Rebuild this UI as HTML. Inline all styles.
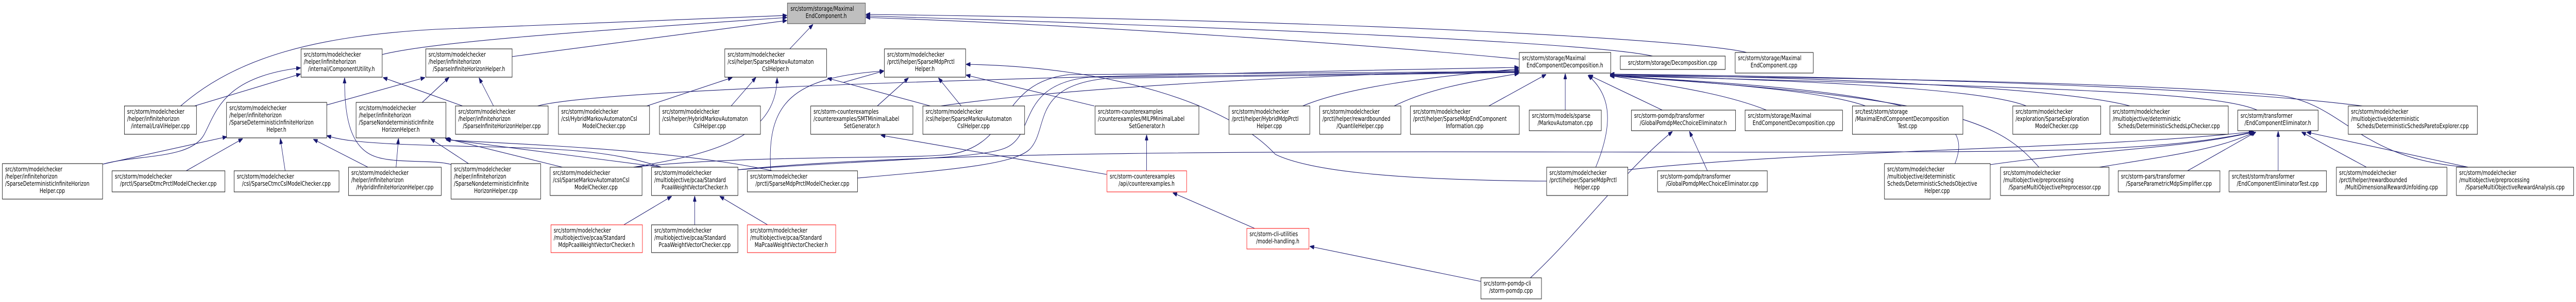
<!DOCTYPE html>
<html><head><meta charset="utf-8"><style>
html,body{margin:0;padding:0;background:#fff;overflow:hidden;width:100%;height:100%;}
svg{display:block;position:absolute;left:0;top:0;width:100vw;height:100vh}
text{font-family:"DejaVu Sans","Liberation Sans",sans-serif;font-size:12px;fill:#000}
.e{fill:none;stroke:#191970;stroke-width:1.1}
.n{fill:#fff;stroke:#000;stroke-width:1}
.r{fill:#fff;stroke:#ff0000;stroke-width:1}
.m{text-anchor:middle}
</style></head><body>
<svg viewBox="0 0 6504 587" preserveAspectRatio="none" xmlns="http://www.w3.org/2000/svg">
<defs><marker id="a" markerUnits="userSpaceOnUse" markerWidth="11" markerHeight="8" refX="10" refY="4" orient="auto"><path d="M0,0 L11,4 L0,8 z" fill="#191970" stroke="#191970"/></marker></defs>
<g class="edges">
<path class="e" marker-end="url(#a)" d="M456,206 C600,110 800,70 1100,57 L1986,30"/>
<path class="e" marker-end="url(#a)" d="M491,206 L758,144"/>
<path class="e" marker-end="url(#a)" d="M260,319 C350,300 480,310 515,262 C545,220 560,150 758,132"/>
<path class="e" marker-end="url(#a)" d="M260,319 L572,266"/>
<path class="e" marker-end="url(#a)" d="M965,106 C1100,80 1500,60 1986,34"/>
<path class="e" marker-end="url(#a)" d="M1293,110 L1986,40"/>
<path class="e" marker-end="url(#a)" d="M1140,320 C1100,310 1000,318 950,305 C880,288 870,220 870,152"/>
<path class="e" marker-end="url(#a)" d="M825,204 L1072,151"/>
<path class="e" marker-end="url(#a)" d="M1066,199 L1133,151"/>
<path class="e" marker-end="url(#a)" d="M1168,206 L968,151"/>
<path class="e" marker-end="url(#a)" d="M1246,206 L1210,152"/>
<path class="e" marker-end="url(#a)" d="M1357,206 C1500,175 2500,150 3834,131"/>
<path class="e" marker-end="url(#a)" d="M470,332 L612,270"/>
<path class="e" marker-end="url(#a)" d="M720,332 L708,270"/>
<path class="e" marker-end="url(#a)" d="M929,325 L792,271"/>
<path class="e" marker-end="url(#a)" d="M1000,325 L1006,270"/>
<path class="e" marker-end="url(#a)" d="M1183,318 L1088,270"/>
<path class="e" marker-end="url(#a)" d="M1420,325 L1125,269"/>
<path class="e" marker-end="url(#a)" d="M1670,325 C1500,280 1300,290 1000,280 C900,276 860,272 826,264"/>
<path class="e" marker-end="url(#a)" d="M1670,325 L1128,271"/>
<path class="e" marker-end="url(#a)" d="M1950,332 C1700,290 1300,280 1127,272"/>
<path class="e" marker-end="url(#a)" d="M1994,95 L2052,48"/>
<path class="e" marker-end="url(#a)" d="M1633,206 L1848,151"/>
<path class="e" marker-end="url(#a)" d="M1846,206 L1908,151"/>
<path class="e" marker-end="url(#a)" d="M1599,325 C1790,300 1960,270 1962,152"/>
<path class="e" marker-end="url(#a)" d="M2349,206 L2090,152"/>
<path class="e" marker-end="url(#a)" d="M2215,206 L2293,152"/>
<path class="e" marker-end="url(#a)" d="M2427,206 L2370,152"/>
<path class="e" marker-end="url(#a)" d="M2763,206 L2440,146"/>
<path class="e" marker-end="url(#a)" d="M2130,160 L2231,138"/>
<path class="e" marker-end="url(#a)" d="M1946,332 C1935,200 2000,150 2231,138"/>
<path class="e" marker-end="url(#a)" d="M3905,352 C3500,350 3300,330 3220,300 C3100,200 2800,130 2440,125"/>
<path class="e" marker-end="url(#a)" d="M2794,339 L2225,263"/>
<path class="e" marker-end="url(#a)" d="M2895,332 L2895,263"/>
<path class="e" marker-end="url(#a)" d="M3168,444 L2962,375"/>
<path class="e" marker-end="url(#a)" d="M3739,547 L3308,479"/>
<path class="e" marker-end="url(#a)" d="M3864,540 C3990,450 4090,340 4222,256"/>
<path class="e" marker-end="url(#a)" d="M4311,332 L4266,256"/>
<path class="e" marker-end="url(#a)" d="M4197,214 L4012,146"/>
<path class="e" marker-end="url(#a)" d="M3952,214 L3952,144"/>
<path class="e" marker-end="url(#a)" d="M3759,206 L3903,145"/>
<path class="e" marker-end="url(#a)" d="M3520,206 C3600,175 3700,160 3834,143"/>
<path class="e" marker-end="url(#a)" d="M3289,206 C3400,170 3600,150 3834,134"/>
<path class="e" marker-end="url(#a)" d="M4029,325 C4080,230 4060,180 4010,147"/>
<path class="e" marker-end="url(#a)" d="M4110,330 C4600,290 5300,290 5688,256"/>
<path class="e" marker-end="url(#a)" d="M4460,214 C4350,180 4200,165 4066,147"/>
<path class="e" marker-end="url(#a)" d="M4710,206 C4600,175 4300,160 4066,146"/>
<path class="e" marker-end="url(#a)" d="M5116,206 C5000,170 4500,155 4066,146"/>
<path class="e" marker-end="url(#a)" d="M5378,206 C5200,170 4600,150 4066,145"/>
<path class="e" marker-end="url(#a)" d="M5965,206 C5600,170 4800,150 4066,144"/>
<path class="e" marker-end="url(#a)" d="M4936,318 C4980,230 4900,180 4066,148"/>
<path class="e" marker-end="url(#a)" d="M5148,325 C5050,240 4950,190 4066,148"/>
<path class="e" marker-end="url(#a)" d="M6232,325 C5950,310 5920,200 5750,185 C5400,160 4600,150 4066,147"/>
<path class="e" marker-end="url(#a)" d="M5523,332 L5695,257"/>
<path class="e" marker-end="url(#a)" d="M5752,332 L5752,256"/>
<path class="e" marker-end="url(#a)" d="M5975,325 L5812,257"/>
<path class="e" marker-end="url(#a)" d="M6232,325 L5825,257"/>
<path class="e" marker-end="url(#a)" d="M5025,320 C5300,290 5500,290 5690,257"/>
<path class="e" marker-end="url(#a)" d="M5300,325 C5500,300 5600,290 5692,257"/>
<path class="e" marker-end="url(#a)" d="M1863,330 C2500,280 4000,300 4800,295 C5200,295 5500,290 5690,256"/>
<path class="e" marker-end="url(#a)" d="M5699,214 C5600,180 5200,170 4066,147"/>
<path class="e" marker-end="url(#a)" d="M3836,115 C3500,90 2800,50 2187,34"/>
<path class="e" marker-end="url(#a)" d="M4173,109 C4000,80 3000,50 2187,31"/>
<path class="e" marker-end="url(#a)" d="M4410,102 C4300,80 3500,40 2187,28"/>
<path class="e" marker-end="url(#a)" d="M1599,325 C1900,300 2300,310 2400,300 C2560,280 2520,160 2700,145 C3200,140 3600,140 3834,139"/>
<path class="e" marker-end="url(#a)" d="M1863,330 C2200,310 2450,310 2530,290 C2620,270 2560,165 2750,150 C3200,145 3600,140 3834,140"/>
<path class="e" marker-end="url(#a)" d="M2165,346 C2400,330 2560,320 2600,290 C2650,250 2600,165 2800,152 C3200,148 3600,142 3834,141"/>
<path class="e" marker-end="url(#a)" d="M2375,206 C2700,170 3300,145 3834,137"/>
<path class="e" marker-end="url(#a)" d="M1575,437 L1695,382"/>
<path class="e" marker-end="url(#a)" d="M1754,437 L1754,382"/>
<path class="e" marker-end="url(#a)" d="M1938,437 L1818,382"/>
</g>
<g class="nodes">
<rect x="1988" y="6" width="197" height="40" fill="#bfbfbf" stroke="#404040"/>
<text x="1996" y="21">src/storm/storage/Maximal</text><text class="m" x="2086" y="35">EndComponent.h</text>

<rect class="n" x="760" y="95" width="205" height="55"/>
<text x="767" y="110">src/storm/modelchecker</text><text x="767" y="124">/helper/infinitehorizon</text><text class="m" x="862" y="138">/internal/ComponentUtility.h</text>

<rect class="n" x="1075" y="95" width="218" height="55"/>
<text x="1082" y="110">src/storm/modelchecker</text><text x="1082" y="124">/helper/infinitehorizon</text><text class="m" x="1184" y="138">/SparseInfiniteHorizonHelper.h</text>

<rect class="n" x="1830" y="95" width="257" height="55"/>
<text x="1837" y="110">src/storm/modelchecker</text><text x="1837" y="124">/csl/helper/SparseMarkovAutomaton</text><text class="m" x="1958" y="138">CslHelper.h</text>

<rect class="n" x="2233" y="95" width="205" height="55"/>
<text x="2240" y="110">src/storm/modelchecker</text><text x="2240" y="124">/prctl/helper/SparseMdpPrctl</text><text class="m" x="2335" y="138">Helper.h</text>

<rect class="n" x="3836" y="102" width="231" height="40"/>
<text x="3843" y="117">src/storm/storage/Maximal</text><text class="m" x="3951" y="131">EndComponentDecomposition.h</text>

<rect class="n" x="4091" y="109" width="265" height="26"/>
<text class="m" x="4223" y="126">src/storm/storage/Decomposition.cpp</text>

<rect class="n" x="4381" y="102" width="197" height="40"/>
<text x="4388" y="117">src/storm/storage/Maximal</text><text class="m" x="4479" y="131">EndComponent.cpp</text>

<rect class="n" x="314" y="206" width="182" height="55"/>
<text x="321" y="221">src/storm/modelchecker</text><text x="321" y="235">/helper/infinitehorizon</text><text class="m" x="405" y="249">/internal/LraViHelper.cpp</text>

<rect class="n" x="572" y="199" width="253" height="69"/>
<text x="579" y="214">src/storm/modelchecker</text><text x="579" y="228">/helper/infinitehorizon</text><text x="579" y="242">/SparseDeterministicInfiniteHorizon</text><text class="m" x="698" y="256">Helper.h</text>

<rect class="n" x="899" y="199" width="227" height="69"/>
<text x="906" y="214">src/storm/modelchecker</text><text x="906" y="228">/helper/infinitehorizon</text><text x="906" y="242">/SparseNondeterministicInfinite</text><text class="m" x="1012" y="256">HorizonHelper.h</text>

<rect class="n" x="1150" y="206" width="234" height="55"/>
<text x="1157" y="221">src/storm/modelchecker</text><text x="1157" y="235">/helper/infinitehorizon</text><text class="m" x="1267" y="249">/SparseInfiniteHorizonHelper.cpp</text>

<rect class="n" x="1410" y="206" width="230" height="55"/>
<text x="1417" y="221">src/storm/modelchecker</text><text x="1417" y="235">/csl/HybridMarkovAutomatonCsl</text><text class="m" x="1525" y="249">ModelChecker.cpp</text>

<rect class="n" x="1665" y="206" width="255" height="55"/>
<text x="1672" y="221">src/storm/modelchecker</text><text x="1672" y="235">/csl/helper/HybridMarkovAutomaton</text><text class="m" x="1792" y="249">CslHelper.cpp</text>

<rect class="n" x="2047" y="206" width="258" height="55"/>
<text x="2054" y="221">src/storm-counterexamples</text><text x="2054" y="235">/counterexamples/SMTMinimalLabel</text><text class="m" x="2176" y="249">SetGenerator.h</text>

<rect class="n" x="2330" y="206" width="257" height="55"/>
<text x="2337" y="221">src/storm/modelchecker</text><text x="2337" y="235">/csl/helper/SparseMarkovAutomaton</text><text class="m" x="2458" y="249">CslHelper.cpp</text>

<rect class="n" x="2765" y="206" width="262" height="55"/>
<text x="2772" y="221">src/storm-counterexamples</text><text x="2772" y="235">/counterexamples/MILPMinimalLabel</text><text class="m" x="2896" y="249">SetGenerator.h</text>

<rect class="n" x="3103" y="206" width="204" height="55"/>
<text x="3110" y="221">src/storm/modelchecker</text><text x="3110" y="235">/prctl/helper/HybridMdpPrctl</text><text class="m" x="3205" y="249">Helper.cpp</text>

<rect class="n" x="3332" y="206" width="205" height="55"/>
<text x="3339" y="221">src/storm/modelchecker</text><text x="3339" y="235">/prctl/helper/rewardbounded</text><text class="m" x="3434" y="249">/QuantileHelper.cpp</text>

<rect class="n" x="3561" y="206" width="275" height="55"/>
<text x="3568" y="221">src/storm/modelchecker</text><text x="3568" y="235">/prctl/helper/SparseMdpEndComponent</text><text class="m" x="3698" y="249">Information.cpp</text>

<rect class="n" x="3861" y="214" width="182" height="40"/>
<text x="3868" y="229">src/storm/models/sparse</text><text class="m" x="3952" y="243">/MarkovAutomaton.cpp</text>

<rect class="n" x="4119" y="214" width="263" height="40"/>
<text x="4126" y="229">src/storm-pomdp/transformer</text><text class="m" x="4250" y="243">/GlobalPomdpMecChoiceEliminator.h</text>

<rect class="n" x="4406" y="214" width="246" height="40"/>
<text x="4413" y="229">src/storm/storage/Maximal</text><text class="m" x="4529" y="243">EndComponentDecomposition.cpp</text>

<rect class="n" x="4677" y="206" width="279" height="55"/>
<text x="4684" y="221">src/test/storm/storage</text><text x="4684" y="235">/MaximalEndComponentDecomposition</text><text class="m" x="4816" y="249">Test.cpp</text>

<rect class="n" x="5082" y="206" width="222" height="55"/>
<text x="5089" y="221">src/storm/modelchecker</text><text x="5089" y="235">/exploration/SparseExploration</text><text class="m" x="5193" y="249">ModelChecker.cpp</text>

<rect class="n" x="5327" y="206" width="299" height="55"/>
<text x="5334" y="221">src/storm/modelchecker</text><text x="5334" y="235">/multiobjective/deterministic</text><text class="m" x="5476" y="249">Scheds/DeterministicSchedsLpChecker.cpp</text>

<rect class="n" x="5650" y="214" width="203" height="40"/>
<text x="5657" y="229">src/storm/transformer</text><text class="m" x="5751" y="243">/EndComponentEliminator.h</text>

<rect class="n" x="5929" y="206" width="326" height="55"/>
<text x="5936" y="221">src/storm/modelchecker</text><text x="5936" y="235">/multiobjective/deterministic</text><text class="m" x="6092" y="249">Scheds/DeterministicSchedsParetoExplorer.cpp</text>

<rect class="n" x="6" y="318" width="253" height="69"/>
<text x="13" y="333">src/storm/modelchecker</text><text x="13" y="347">/helper/infinitehorizon</text><text x="13" y="361">/SparseDeterministicInfiniteHorizon</text><text class="m" x="132" y="375">Helper.cpp</text>

<rect class="n" x="283" y="332" width="285" height="41"/>
<text x="290" y="347">src/storm/modelchecker</text><text class="m" x="425" y="361">/prctl/SparseDtmcPrctlModelChecker.cpp</text>

<rect class="n" x="591" y="332" width="265" height="41"/>
<text x="598" y="347">src/storm/modelchecker</text><text class="m" x="723" y="361">/csl/SparseCtmcCslModelChecker.cpp</text>

<rect class="n" x="880" y="325" width="234" height="55"/>
<text x="887" y="340">src/storm/modelchecker</text><text x="887" y="354">/helper/infinitehorizon</text><text class="m" x="997" y="368">/HybridInfiniteHorizonHelper.cpp</text>

<rect class="n" x="1139" y="318" width="226" height="69"/>
<text x="1146" y="333">src/storm/modelchecker</text><text x="1146" y="347">/helper/infinitehorizon</text><text x="1146" y="361">/SparseNondeterministicInfinite</text><text class="m" x="1252" y="375">HorizonHelper.cpp</text>

<rect class="n" x="1389" y="325" width="232" height="55"/>
<text x="1396" y="340">src/storm/modelchecker</text><text x="1396" y="354">/csl/SparseMarkovAutomatonCsl</text><text class="m" x="1505" y="368">ModelChecker.cpp</text>

<rect class="n" x="1645" y="325" width="218" height="55"/>
<text x="1652" y="340">src/storm/modelchecker</text><text x="1652" y="354">/multiobjective/pcaa/Standard</text><text class="m" x="1754" y="368">PcaaWeightVectorChecker.h</text>

<rect class="n" x="1887" y="332" width="278" height="41"/>
<text x="1894" y="347">src/storm/modelchecker</text><text class="m" x="2026" y="361">/prctl/SparseMdpPrctlModelChecker.cpp</text>

<rect class="r" x="2795" y="332" width="201" height="41"/>
<text x="2802" y="347">src/storm-counterexamples</text><text class="m" x="2895" y="361">/api/counterexamples.h</text>

<rect class="n" x="3905" y="325" width="205" height="55"/>
<text x="3912" y="340">src/storm/modelchecker</text><text x="3912" y="354">/prctl/helper/SparseMdpPrctl</text><text class="m" x="4007" y="368">Helper.cpp</text>

<rect class="n" x="4185" y="332" width="277" height="41"/>
<text x="4192" y="347">src/storm-pomdp/transformer</text><text class="m" x="4323" y="361">/GlobalPomdpMecChoiceEliminator.cpp</text>

<rect class="n" x="4758" y="318" width="267" height="69"/>
<text x="4765" y="333">src/storm/modelchecker</text><text x="4765" y="347">/multiobjective/deterministic</text><text x="4765" y="361">Scheds/DeterministicSchedsObjective</text><text class="m" x="4891" y="375">Helper.cpp</text>

<rect class="n" x="5051" y="325" width="274" height="55"/>
<text x="5058" y="340">src/storm/modelchecker</text><text x="5058" y="354">/multiobjective/preprocessing</text><text class="m" x="5188" y="368">/SparseMultiObjectivePreprocessor.cpp</text>

<rect class="n" x="5348" y="332" width="257" height="41"/>
<text x="5355" y="347">src/storm-pars/transformer</text><text class="m" x="5476" y="361">/SparseParametricMdpSimplifier.cpp</text>

<rect class="n" x="5628" y="332" width="246" height="41"/>
<text x="5635" y="347">src/test/storm/transformer</text><text class="m" x="5751" y="361">/EndComponentEliminatorTest.cpp</text>

<rect class="n" x="5899" y="325" width="279" height="55"/>
<text x="5906" y="340">src/storm/modelchecker</text><text x="5906" y="354">/prctl/helper/rewardbounded</text><text class="m" x="6038" y="368">/MultiDimensionalRewardUnfolding.cpp</text>

<rect class="n" x="6202" y="325" width="296" height="55"/>
<text x="6209" y="340">src/storm/modelchecker</text><text x="6209" y="354">/multiobjective/preprocessing</text><text class="m" x="6350" y="368">/SparseMultiObjectiveRewardAnalysis.cpp</text>

<rect class="r" x="1391" y="437" width="231" height="54"/>
<text x="1398" y="452">src/storm/modelchecker</text><text x="1398" y="466">/multiobjective/pcaa/Standard</text><text class="m" x="1506" y="480">MdpPcaaWeightVectorChecker.h</text>

<rect class="n" x="1645" y="437" width="218" height="54"/>
<text x="1652" y="452">src/storm/modelchecker</text><text x="1652" y="466">/multiobjective/pcaa/Standard</text><text class="m" x="1754" y="480">PcaaWeightVectorChecker.cpp</text>

<rect class="r" x="1887" y="437" width="223" height="54"/>
<text x="1894" y="452">src/storm/modelchecker</text><text x="1894" y="466">/multiobjective/pcaa/Standard</text><text class="m" x="1998" y="480">MaPcaaWeightVectorChecker.h</text>

<rect class="r" x="3148" y="444" width="157" height="40"/>
<text x="3155" y="459">src/storm-cli-utilities</text><text class="m" x="3226" y="473">/model-handling.h</text>

<rect class="n" x="3739" y="540" width="153" height="41"/>
<text x="3746" y="555">src/storm-pomdp-cli</text><text class="m" x="3815" y="569">/storm-pomdp.cpp</text>
</g>
</svg>
</body></html>
